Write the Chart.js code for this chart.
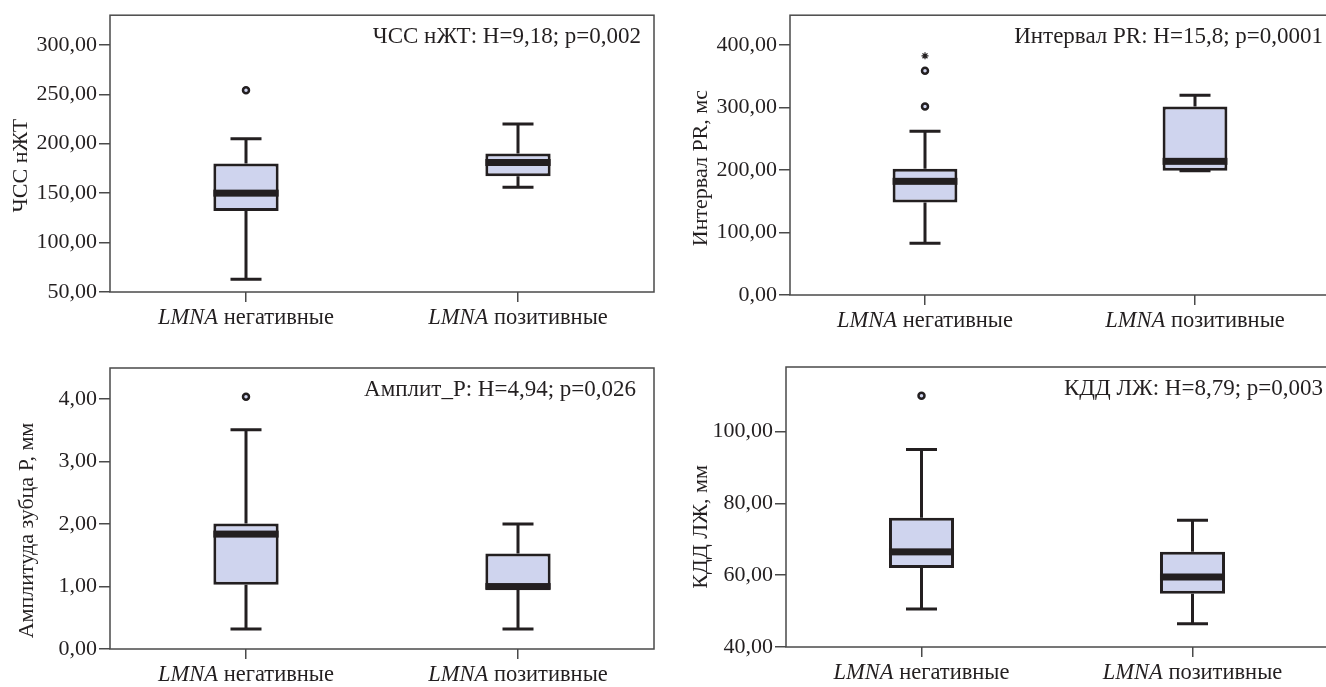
<!DOCTYPE html>
<html>
<head>
<meta charset="utf-8">
<script src="https://cdn.jsdelivr.net/npm/chart.js@4.4.1/dist/chart.umd.min.js"></script>
<style>
  html, body { margin: 0; padding: 0; background: #fff; overflow: hidden; width: 1326px; height: 687px; position: relative; }
  canvas { position: absolute; }
</style>
</head>
<body>
<canvas id="hr" width="663" height="343" style="left:0;top:0"></canvas>
<canvas id="pr" width="680" height="343" style="left:663px;top:0"></canvas>
<canvas id="ampP" width="663" height="344" style="left:0;top:343px"></canvas>
<canvas id="kdd" width="680" height="344" style="left:663px;top:343px"></canvas>
<script>
const categories = ['LMNA негативные', 'LMNA позитивные'];

// ЧСС нЖТ
const hrMin = [63, 156];
const hrQ1 = [132, 167];
const hrMed = [150, 181];
const hrQ3 = [180, 190];
const hrMax = [205, 220];
const hrOutNeg = [254];
const hrTicks = [50, 100, 150, 200, 250, 300];

// Интервал PR
const prMin = [83, 199];
const prQ1 = [148, 199];
const prMed = [182, 214];
const prQ3 = [202, 302];
const prMax = [262, 320];
const prOutNeg = [359, 302];
const prExtremeNeg = [383];
const prTicks = [0, 100, 200, 300, 400];

// Амплитуда зубца P
const ampMin = [0.32, 0.32];
const ampQ1 = [1.03, 0.96];
const ampMed = [1.84, 1.0];
const ampQ3 = [2.01, 1.53];
const ampMax = [3.51, 2.0];
const ampOutNeg = [4.04];
const ampTicks = [0, 1, 2, 3, 4];

// КДД ЛЖ
const kddMin = [50.6, 46.5];
const kddQ1 = [62, 54.8];
const kddMed = [66.5, 59.5];
const kddQ3 = [76, 66.5];
const kddMax = [95, 75.3];
const kddOutNeg = [110];
const kddTicks = [40, 60, 80, 100];

const INK = '#231f20';
const FRAME = '#4a4a4a';
const BOX_FILL = '#cfd4ee';
const FONT = 'Liberation Serif';

// усы, медиана, рамка, подписи осей и текст со статистикой
const boxExtras = {
  id: 'boxExtras',
  beforeDatasetsDraw(chart) {
    const a = chart.chartArea, ctx = chart.ctx;
    ctx.save();
    ctx.strokeStyle = FRAME;
    ctx.lineWidth = 1.5;
    ctx.strokeRect(a.left, a.top, a.right - a.left, a.bottom - a.top);
    ctx.restore();
  },
  afterDatasetsDraw(chart, args, opts) {
    const ctx = chart.ctx, ys = chart.scales.y;
    const bars = chart.getDatasetMeta(0).data;
    ctx.save();
    ctx.strokeStyle = INK;
    ctx.fillStyle = INK;
    ctx.lineWidth = 3;
    bars.forEach((bar, i) => {
      const x = bar.x, half = bar.width / 2;
      const yMax = ys.getPixelForValue(opts.max[i]);
      const yMin = ys.getPixelForValue(opts.min[i]);
      const yQ3 = ys.getPixelForValue(opts.q3[i]);
      const yQ1 = ys.getPixelForValue(opts.q1[i]);
      ctx.beginPath();
      ctx.moveTo(x, yQ3); ctx.lineTo(x, yMax);
      ctx.moveTo(x - 15.5, yMax); ctx.lineTo(x + 15.5, yMax);
      ctx.moveTo(x, yQ1); ctx.lineTo(x, yMin);
      ctx.moveTo(x - 15.5, yMin); ctx.lineTo(x + 15.5, yMin);
      ctx.stroke();
      const yMed = ys.getPixelForValue(opts.med[i]);
      ctx.fillRect(x - half, yMed - 3.5, bar.width, 7);
    });
    ctx.restore();
  },
  afterDraw(chart, args, opts) {
    const ctx = chart.ctx, xs = chart.scales.x, a = chart.chartArea;
    ctx.save();
    ctx.fillStyle = INK;
    ctx.textBaseline = 'alphabetic';
    // подписи категорий: LMNA курсивом
    categories.forEach((label, i) => {
      const sp = label.indexOf(' ');
      const it = label.slice(0, sp), rest = label.slice(sp);
      ctx.font = 'italic 22.5px "' + FONT + '"';
      const w1 = ctx.measureText(it).width;
      ctx.font = '22.5px "' + FONT + '"';
      const w2 = ctx.measureText(rest).width;
      const x0 = xs.getPixelForTick(i) - (w1 + w2) / 2;
      const y = a.bottom + 32;
      ctx.font = 'italic 22.5px "' + FONT + '"';
      ctx.textAlign = 'left';
      ctx.fillText(it, x0, y);
      ctx.font = '22.5px "' + FONT + '"';
      ctx.fillText(rest, x0 + w1, y);
    });
    // текст со статистикой
    ctx.font = '23px "' + FONT + '"';
    ctx.textAlign = 'right';
    ctx.textBaseline = 'middle';
    ctx.fillText(opts.note, a.right - opts.noteRight, a.top + 22);
    // название оси Y
    ctx.font = '22px "' + FONT + '"';
    ctx.textAlign = 'center';
    ctx.translate(opts.titleX, (a.top + a.bottom) / 2 + opts.titleShift);
    ctx.rotate(-Math.PI / 2);
    ctx.fillText(opts.title, 0, 0);
    ctx.restore();
  }
};

function fmt(v) {
  return v.toFixed(2).replace('.', ',');
}

function boxChart(id, s) {
  const outlierData = s.outliers.map(v => ({ x: categories[0], y: v }));
  const extremeData = (s.extremes || []).map(v => ({ x: categories[0], y: v }));
  return new Chart(document.getElementById(id), {
    type: 'bar',
    data: {
      labels: categories,
      datasets: [
        {
          data: s.q1.map((q, i) => [q, s.q3[i]]),
          backgroundColor: BOX_FILL,
          borderColor: INK,
          borderWidth: 3,
          borderSkipped: false,
          barPercentage: 0.24,
          categoryPercentage: 1
        },
        {
          type: 'scatter',
          data: outlierData,
          pointStyle: 'circle',
          radius: 3,
          borderWidth: 2.5,
          borderColor: INK,
          backgroundColor: BOX_FILL
        },
        {
          type: 'scatter',
          data: extremeData,
          pointStyle: 'star',
          radius: 3.5,
          borderWidth: 1.2,
          borderColor: INK
        }
      ]
    },
    options: {
      responsive: false,
      animation: false,
      layout: { padding: s.pad },
      plugins: {
        legend: { display: false },
        tooltip: { enabled: false },
        boxExtras: {
          min: s.min, q1: s.q1, med: s.med, q3: s.q3, max: s.max,
          note: s.note, noteRight: s.noteRight,
          title: s.title, titleX: s.titleX, titleShift: s.titleShift
        }
      },
      scales: {
        x: {
          type: 'category',
          offset: true,
          grid: { display: true, drawOnChartArea: false, offset: false, tickLength: 10, color: FRAME, lineWidth: 1.5 },
          border: { display: false },
          ticks: { display: false },
          afterFit(axis) { axis.height = s.xHeight; }
        },
        y: {
          min: s.yMin,
          max: s.yMax,
          grid: { display: true, drawOnChartArea: false, tickLength: 11, color: FRAME, lineWidth: 1.5 },
          border: { display: false },
          ticks: {
            padding: 2,
            color: INK,
            font: { family: FONT, size: 22 },
            callback: v => fmt(v)
          },
          afterBuildTicks(axis) { axis.ticks = s.ticks.map(v => ({ value: v })); },
          afterFit(axis) { axis.width = s.yWidth; }
        }
      }
    },
    plugins: [boxExtras]
  });
}

boxChart('hr', {
  min: hrMin, q1: hrQ1, med: hrMed, q3: hrQ3, max: hrMax,
  outliers: hrOutNeg, ticks: hrTicks, yMin: 50, yMax: 330,
  title: 'ЧСС нЖТ', titleX: 21, titleShift: 12,
  note: 'ЧСС нЖТ: H=9,18; p=0,002', noteRight: 13,
  pad: { top: 14, right: 9, left: 0, bottom: 0 }, xHeight: 51, yWidth: 110
});

boxChart('pr', {
  min: prMin, q1: prQ1, med: prMed, q3: prQ3, max: prMax,
  outliers: prOutNeg, extremes: prExtremeNeg, ticks: prTicks, yMin: 0, yMax: 448,
  title: 'Интервал PR, мс', titleX: 38, titleShift: 13,
  note: 'Интервал PR: H=15,8; p=0,0001', noteRight: 7,
  pad: { top: 15, right: 13, left: 0, bottom: 0 }, xHeight: 48, yWidth: 127
});

boxChart('ampP', {
  min: ampMin, q1: ampQ1, med: ampMed, q3: ampQ3, max: ampMax,
  outliers: ampOutNeg, ticks: ampTicks, yMin: 0, yMax: 4.5,
  title: 'Амплитуда зубца P, мм', titleX: 27, titleShift: 22,
  note: 'Амплит_P: H=4,94; p=0,026', noteRight: 18,
  pad: { top: 25, right: 9, left: 0, bottom: 0 }, xHeight: 38, yWidth: 110
});

boxChart('kdd', {
  min: kddMin, q1: kddQ1, med: kddMed, q3: kddQ3, max: kddMax,
  outliers: kddOutNeg, ticks: kddTicks, yMin: 40, yMax: 118,
  title: 'КДД ЛЖ, мм', titleX: 38, titleShift: 20,
  note: 'КДД ЛЖ: H=8,79; p=0,003', noteRight: 5,
  pad: { top: 24, right: 15, left: 0, bottom: 0 }, xHeight: 40, yWidth: 123
});
</script>
</body>
</html>
